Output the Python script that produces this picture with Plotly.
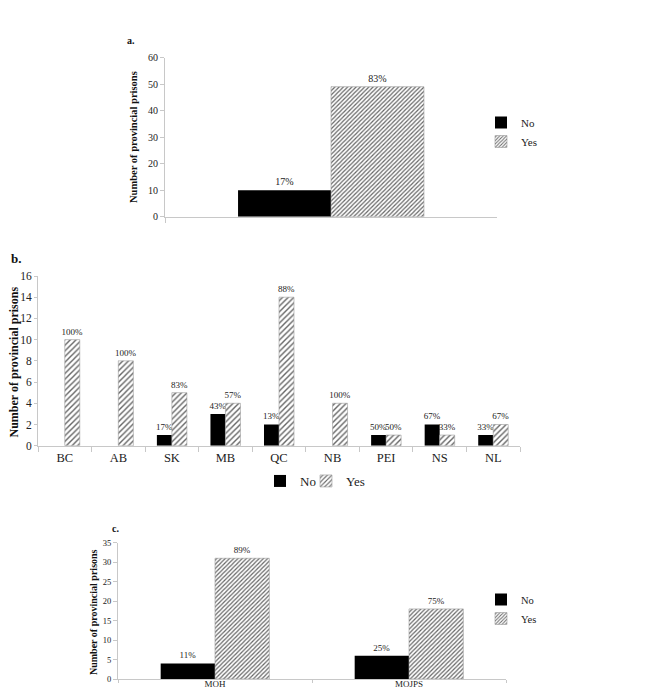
import plotly.graph_objects as go

# ---------------- data ----------------
a_cats = [""]
a_no = [10]
a_yes = [49]
a_no_lbl = ["17%"]
a_yes_lbl = ["83%"]

b_cats = ["BC", "AB", "SK", "MB", "QC", "NB", "PEI", "NS", "NL"]
b_no = [0, 0, 1, 3, 2, 0, 1, 2, 1]
b_yes = [10, 8, 5, 4, 14, 4, 1, 1, 2]
b_no_lbl = ["", "", "17%", "43%", "13%", "", "50%", "67%", "33%"]
b_yes_lbl = ["100%", "100%", "83%", "57%", "88%", "100%", "50%", "33%", "67%"]

c_cats = ["MOH", "MOJPS"]
c_no = [4, 6]
c_yes = [31, 18]
c_no_lbl = ["11%", "25%"]
c_yes_lbl = ["89%", "75%"]

ytitle = "Number of provincial prisons"
SERIF = "Liberation Serif"
TXT = "#222222"
OFF = 8  # default page body margin
W, H = 668 - 2 * OFF, 697 - 2 * OFF
AX = "#c8c8c8"


def px(x):
    return (x - OFF) / W


def py(y):
    return 1 - (y - OFF) / H


fig = go.Figure()


def add_panel(cats, no, yes, no_lbl, yes_lbl, xa, ya, leg_no, leg_yes, lblsize, psize, sol, fg):
    fig.add_trace(go.Bar(
        x=cats, y=no, name="No", text=no_lbl, textposition="outside",
        constraintext="none",
        textfont=dict(family=SERIF, size=lblsize, color=TXT),
        marker=dict(color="black", line=dict(width=0)),
        xaxis=xa, yaxis=ya, legend=leg_no, cliponaxis=False,
    ))
    fig.add_trace(go.Bar(
        x=cats, y=yes, name="Yes", text=yes_lbl, textposition="outside",
        constraintext="none",
        textfont=dict(family=SERIF, size=lblsize, color=TXT),
        marker=dict(color="white",
                    pattern=dict(shape="/", fgcolor=fg, bgcolor="white",
                                 size=psize, solidity=sol),
                    line=dict(width=0.6, color="#9a9a9a")),
        xaxis=xa, yaxis=ya, legend=leg_yes, cliponaxis=False,
    ))


add_panel(a_cats, a_no, a_yes, a_no_lbl, a_yes_lbl, "x", "y", "legend", "legend", 10, 3, 0.4, "#666666")
add_panel(b_cats, b_no, b_yes, b_no_lbl, b_yes_lbl, "x2", "y2", "legend2", "legend4", 9, 4, 0.35, "#666666")
add_panel(c_cats, c_no, c_yes, c_no_lbl, c_yes_lbl, "x3", "y3", "legend3", "legend3", 9, 3, 0.4, "#666666")


def xax(dom, size, showlabels=True, tl=5, so=0):
    return dict(domain=dom, showline=True, linecolor=AX, linewidth=1, color=TXT,
                ticks="outside", ticklen=tl, tickcolor=AX, tickson="boundaries",
                ticklabelstandoff=so,
                showgrid=False, zeroline=False, showticklabels=showlabels,
                tickfont=dict(family=SERIF, size=size, color=TXT),
                fixedrange=True, automargin=False)


def yax(dom, rng, dt, size, anchor, tl=4):
    return dict(domain=dom, range=rng, dtick=dt, showline=True, linecolor=AX,
                linewidth=1, ticks="outside", ticklen=tl, tickcolor=AX, color=TXT,
                showgrid=False, zeroline=False, anchor=anchor,
                tickfont=dict(family=SERIF, size=size, color=TXT),
                fixedrange=True, automargin=False)


legcommon = dict(bgcolor="rgba(0,0,0,0)", itemwidth=30)

fig.update_layout(
    template="none",
    width=W, height=H,
    margin=dict(l=0, r=0, t=0, b=0),
    paper_bgcolor="white", plot_bgcolor="white",
    bargap=0.44, bargroupgap=0,
    font=dict(family=SERIF, color=TXT),
    xaxis=xax([px(165), px(497)], 10, False) | dict(anchor="y"),
    yaxis=yax([py(216.7), py(57.5)], [0, 60], 10, 10, "x"),
    xaxis2=xax([px(38), px(520)], 12.5) | dict(anchor="y2"),
    yaxis2=yax([py(445.7), py(276)], [0, 16], 2, 11.5, "x2", tl=3),
    xaxis3=xax([px(118), px(506)], 9, tl=3, so=-4) | dict(anchor="y3"),
    yaxis3=yax([py(679), py(542.7)], [0, 35], 5, 8.5, "x3"),
    legend=dict(x=px(481), y=py(108), xanchor="left", yanchor="top",
                orientation="v", font=dict(family=SERIF, size=11, color=TXT),
                tracegroupgap=4, **legcommon),
    legend2=dict(x=px(260), y=py(481), xanchor="left", yanchor="middle",
                 orientation="h", font=dict(family=SERIF, size=13, color=TXT), **legcommon),
    legend4=dict(x=px(306), y=py(481), xanchor="left", yanchor="middle",
                 orientation="h", font=dict(family=SERIF, size=13, color=TXT), **legcommon),
    legend3=dict(x=px(481), y=py(585), xanchor="left", yanchor="top",
                 orientation="v", font=dict(family=SERIF, size=10.5, color=TXT), **legcommon),
    showlegend=True,
)

annos = [
    dict(text="<b>a.</b>", x=px(131), y=py(40), size=10, xa="center"),
    dict(text="<b>b.</b>", x=px(9), y=py(259), size=13, xa="left"),
    dict(text="<b>c.</b>", x=px(115), y=py(528), size=10, xa="center"),
]
for a in annos:
    fig.add_annotation(text=a["text"], x=a["x"], y=a["y"], xref="paper", yref="paper",
                       showarrow=False, font=dict(family=SERIF, size=a["size"], color="#111"),
                       xanchor=a["xa"], yanchor="middle")

titles = [
    dict(x=px(133), y=py(137), size=10.5),
    dict(x=px(13.5), y=py(362), size=12),
    dict(x=px(93), y=py(612), size=10),
]
for t in titles:
    fig.add_annotation(text="<b>" + ytitle + "</b>", x=t["x"], y=t["y"],
                       xref="paper", yref="paper", showarrow=False, textangle=-90,
                       font=dict(family=SERIF, size=t["size"], color="#111"),
                       xanchor="center", yanchor="middle")

fig.write_html("out.html")
